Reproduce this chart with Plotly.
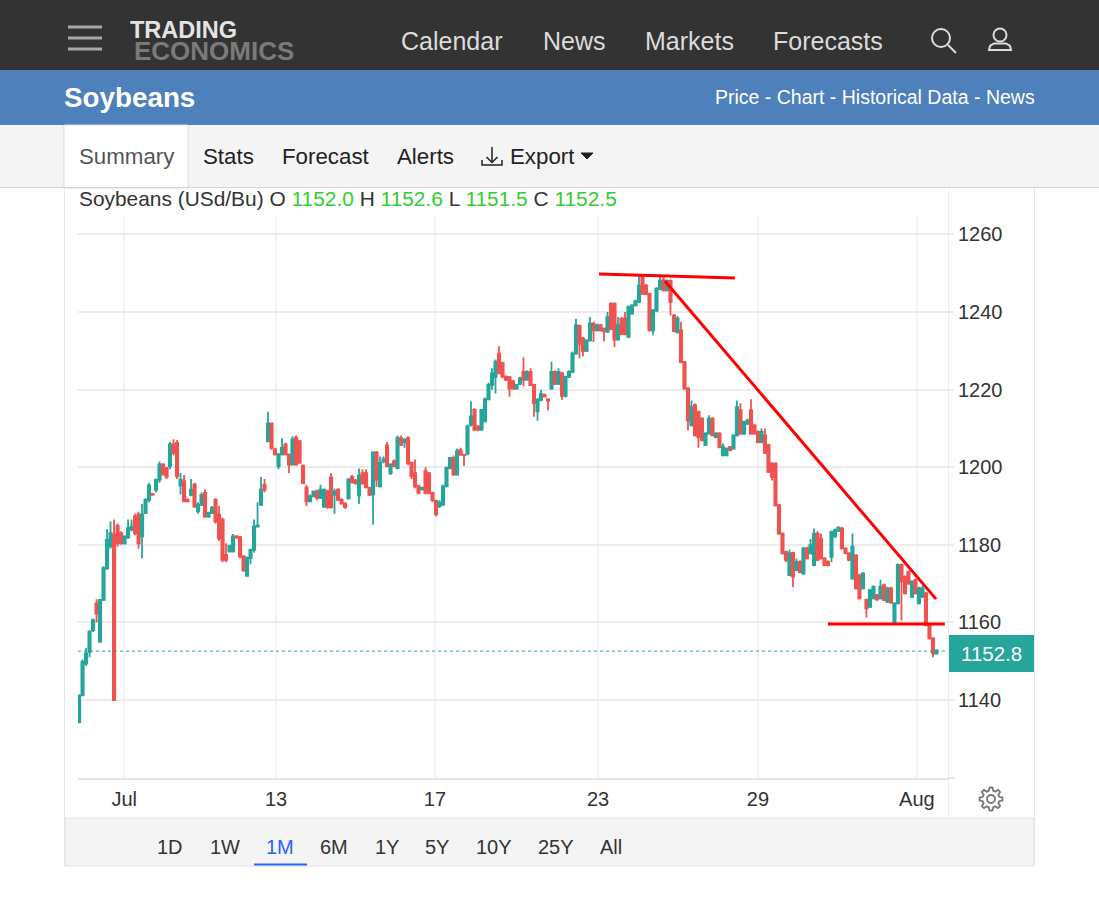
import math
import plotly.graph_objects as go

# prices, one candle per entry, left to right
opens = [
    1134.3,1141.2,1149.4,1152.4,1158,1164.9,1155,1165.8,1174,1179.6,
    1182.6,1184.9,1183,1180.4,1182,1183.9,1187.3,1187.8,1182.2,1188.2,
    1191.6,1193.1,1194.2,1196.8,1200.7,1199.8,1200.3,1205.9,1206.3,1195.3,
    1196.4,1191.6,1192.9,1195.5,1188.6,1190.3,1193.4,1187.3,1188.2,1191.6,
    1187.8,1186.5,1177.4,1178.3,1178.3,1182.2,1182,1177,1172,1176.6,
    1178.7,1184.7,1190.3,1195.5,1206.7,1211.3,1204.6,1200.3,1203.3,1205.9,
    1203.3,1200.7,1207.6,1206.7,1200.4,1194.7,1191.2,1192.5,1193.8,1192.1,
    1189.9,1193.8,1197.4,1192.9,1194.2,1191.6,1190.6,1191.9,1197.5,1196.6,
    1192.7,1198.5,1198.5,1194.7,1193,1203.8,1195.1,1201.5,1205.6,1198.5,
    1201.5,1199.8,1207.5,1206.4,1207.5,1201.1,1198.5,1195.1,1194.3,1199,
    1198.5,1193.4,1191.3,1190,1190.4,1195.1,1199.8,1202.4,1198.1,1204.4,
    1203.2,1203.5,1210.9,1214.8,1210.5,1209.7,1211.8,1217.5,1221.2,1223.3,
    1229.3,1226.8,1223.3,1223.2,1222.1,1220.3,1221.5,1224.6,1222.6,1224.6,
    1221.2,1214.4,1217.4,1218.6,1217.5,1220.3,1224.6,1221.5,1224.2,1218.4,
    1223.3,1224.6,1229.3,1236.4,1233.2,1230,1232.7,1237,1235.3,1236.6,
    1235.7,1234.9,1242.1,1242.1,1232.9,1238.3,1238.3,1233.6,1239.6,1241.7,
    1242.6,1249,1246.8,1244.7,1235.3,1240.4,1246,1248.2,1245.6,1248,
    1239.1,1234.8,1235.3,1227.1,1220.3,1210.8,1216,1214.2,1212.5,1205.8,
    1208.7,1212.5,1207.8,1208.7,1203.1,1203.1,1205.2,1204.8,1208.2,1214.7,
    1208.7,1211.2,1214.7,1210.8,1209.1,1206.5,1208.2,1205.7,1200.9,1200.9,
    1190.2,1182.9,1178.2,1172.2,1177.9,1173.5,1175.6,1172.6,1179.1,1177.8,
    1174.8,1182.9,1181.6,1176.5,1175.6,1176.9,1182.1,1183.6,1184.2,1179.1,
    1177.8,1171.3,1177.3,1172.2,1168.8,1165.8,1164,1166.2,1167,1166.2,
    1169.6,1165.3,1168.8,1160,1164.9,1174.8,1171.8,1173,1166.6,1170.9,
    1164.9,1166.6,1167.5,1159.3,1155.9,1152,
]
closes = [
    1141.2,1149.8,1152,1157.6,1160.6,1162.3,1165.8,1174,1181.3,1183,
    1140,1180.4,1180.4,1182.2,1184.3,1184.7,1183,1180.4,1187.8,1191.6,
    1195.3,1192.9,1196.8,1200.7,1198.1,1197.5,1205.9,1203.7,1197.7,1196.8,
    1191.2,1191.2,1194.2,1189.9,1190.3,1192.9,1187.3,1188.2,1189.5,1186,
    1181.7,1176.1,1176.1,1179.8,1182.2,1182,1177,1173.5,1176.6,1178.7,
    1184.7,1185,1194.2,1194.2,1211.3,1205,1203.3,1203.3,1205,1203.3,
    1200.7,1207.2,1200.7,1201.1,1195.9,1191.2,1192.5,1193.8,1192.1,1194.2,
    1194.2,1189.7,1189.7,1193.8,1191.6,1190.6,1189.7,1196.8,1196.1,1195.9,
    1197.8,1195.9,1194.9,1192.9,1203.8,1196.8,1201.1,1202.1,1200.3,1200.7,
    1200.3,1207.5,1205.8,1207.1,1201.1,1197.7,1195.1,1193.4,1194.7,1193.4,
    1193.4,1191.5,1187.9,1190.9,1195.1,1199.8,1202.4,1198.1,1204.1,1203.2,
    1203.1,1210.5,1213.1,1209.7,1209.7,1214.8,1217.5,1221.2,1224.2,1227.2,
    1224.2,1223.3,1222.5,1220.3,1220.3,1221.2,1222.9,1222.5,1224.6,1221.2,
    1216.5,1217.4,1218.9,1218.2,1217.2,1224.6,1221.5,1224.6,1218.4,1223.3,
    1224.6,1229.3,1236.6,1231.9,1230,1232.7,1237,1235.3,1236.6,1235.3,
    1235.1,1238.7,1235.7,1232.9,1236.6,1234.3,1234.3,1241.3,1241.7,1242.8,
    1246.8,1244.7,1244.7,1235.3,1240.4,1246,1248.1,1245.6,1248,1242.6,
    1235.1,1238.3,1227.1,1220.3,1212.1,1215.5,1208.2,1207.8,1207,1208.7,
    1212.5,1208.2,1208.7,1205.2,1205.2,1204.8,1204.4,1208.2,1215.5,1208.7,
    1211.7,1212.1,1208.7,1208.7,1206.5,1209.1,1203.7,1198.8,1197.5,1190.2,
    1182.9,1177.8,1176.1,1177.8,1171.8,1175.6,1173,1179.1,1176.5,1179.9,
    1182.9,1176.1,1176.5,1174.8,1174.8,1183.3,1183.8,1184.4,1179.1,1177.9,
    1176.1,1179.5,1168.8,1166.2,1172.6,1163.6,1168.3,1169.2,1165.9,1169.2,
    1165.8,1168.8,1165.1,1164.9,1174.8,1170.5,1167.5,1170,1170.5,1167.5,
    1168.8,1168.8,1159.3,1155.9,1152,1152.8,
]
highs = [
    1141.5,1150.5,1153.5,1158,1161,1166,1166,1174.5,1184,1186,
    1186.5,1185.5,1183.5,1182.5,1186.5,1186.5,1188,1188.5,1190.5,1192,
    1196,1193.3,1197,1201.5,1201,1200,1206.5,1207.2,1207,1198.5,
    1198,1192,1197,1196,1191,1193.5,1194.3,1188.5,1190,1192,
    1190,1187,1180.4,1180,1182.8,1182.5,1182.3,1177.3,1177,1179,
    1186.5,1191,1197.5,1197,1214.3,1211.5,1205,1203.7,1207.5,1206.3,
    1203.5,1208,1208.2,1207,1200.7,1195.5,1193,1194,1194.2,1195.5,
    1194.5,1194.2,1198.5,1194.5,1194.6,1192,1191,1197.2,1198,1197,
    1199.7,1199.5,1199.5,1195,1204,1204.2,1202.8,1202.8,1206.5,1201,
    1202,1208.2,1208.2,1207.5,1208,1201.5,1202,1195.5,1195,1200,
    1198.8,1193.7,1191.6,1191.5,1195.5,1200.2,1202.7,1203,1204.8,1205,
    1203.5,1211,1217,1215.2,1210.8,1215,1218,1221.8,1225.5,1227.8,
    1231.2,1227.2,1223.7,1223.5,1222.5,1221.5,1223.3,1228.3,1225,1225.5,
    1221.5,1217.8,1220,1219,1217.8,1227.2,1225,1225.5,1224.6,1223.6,
    1225,1229.8,1238.3,1236.8,1233.6,1233,1238.7,1237.5,1237,1237,
    1236,1240,1242.5,1242.5,1238.7,1238.7,1240,1241.7,1242,1243.2,
    1249.3,1249.5,1247.2,1245,1240.8,1246.4,1249.7,1249,1248.4,1248.4,
    1239.5,1239,1237.5,1227.4,1220.6,1217.2,1216.4,1214.6,1212.9,1209,
    1213.4,1212.9,1209,1209,1206.1,1205.1,1205.5,1208.5,1217.2,1216.5,
    1212,1212.5,1217.5,1211.2,1209.5,1210,1210,1206,1201.3,1201.3,
    1190.5,1183.2,1178.5,1178.8,1178.2,1176.5,1176,1179.5,1179.5,1181.5,
    1184.2,1183.5,1182.9,1176.8,1176,1183.7,1184.2,1184.8,1184.6,1179.4,
    1178.1,1182.9,1177.6,1172.5,1173,1166.1,1168.6,1169.5,1167.3,1171,
    1170,1169.2,1169.2,1165.2,1175.2,1175.2,1172.1,1173.4,1170.9,1171.3,
    1169.2,1169.5,1167.9,1159.6,1156.2,1153.1,
]
lows = [
    1134,1141,1148.8,1151,1157.5,1160,1155,1165.5,1173.5,1179,
    1140,1179.5,1180,1180,1181.5,1183.5,1182.5,1179,1176.5,1188,
    1191,1192.7,1193.5,1196,1198,1197,1199.5,1203,1197,1193,
    1191,1191,1192.5,1189.5,1188,1190,1187,1187,1188,1185.5,
    1181,1175.5,1175.5,1178,1178,1181.5,1176.5,1173,1172,1175,
    1178,1184.5,1190,1193.5,1206.5,1204.5,1203,1199.5,1203,1203,
    1198.5,1200.5,1200.5,1201,1195.7,1190,1191,1192.3,1191.5,1191.8,
    1189.5,1189.3,1189.3,1188,1191.3,1190.3,1189.3,1191.7,1195.8,1195.5,
    1190.5,1195.5,1194.5,1192.5,1185.2,1195,1194.8,1201,1200,1198,
    1200,1199.5,1205.5,1205,1200.5,1197,1194.5,1193,1194,1193,
    1193,1191,1187.3,1189.5,1190,1194.8,1199.5,1197.8,1197.8,1203,
    1200.3,1203,1210.5,1209.3,1209.3,1209.4,1211.5,1217.2,1220,1219,
    1224,1223,1222.2,1218.2,1220,1220,1221.2,1220.9,1222.3,1221,
    1213,1212,1217,1218,1214.7,1220,1221.2,1221.2,1217.4,1218,
    1223,1224.3,1229,1228.1,1228.6,1229.7,1232.4,1232.3,1235,1235,
    1232.4,1234.6,1235.3,1231,1232.6,1234,1234,1233.3,1239.3,1241.4,
    1242.3,1244.4,1244.4,1235,1234,1240,1245.7,1245.3,1245.3,1239.1,
    1234.8,1234.5,1226.8,1220,1209.5,1210.5,1207.9,1205,1206.7,1205.5,
    1208.4,1207.9,1207.5,1204.9,1202.8,1202.8,1204.1,1204.5,1207.9,1208.4,
    1208.4,1210.9,1208.4,1208.4,1206.2,1206.2,1203.4,1198.5,1196.6,1189.9,
    1182.6,1177.5,1175.5,1171.9,1169.1,1173.2,1172.7,1172.3,1176.2,1177.5,
    1174.5,1175.8,1176.2,1174.5,1174.5,1175.5,1181.8,1183.3,1178.8,1177.6,
    1175.8,1171,1168.5,1165.9,1168.5,1161.3,1163.7,1165.9,1165.6,1165.9,
    1165.5,1165,1164.8,1159.8,1164.6,1160.5,1167.2,1169.7,1166.3,1167.2,
    1164.6,1166.3,1159,1155.6,1151,1151.7,
]
candle_index = list(range(len(opens)))

x_tick_index = [12.9, 56.3, 101.7, 148.3, 194, 239.4]
x_tick_labels = ['Jul', '13', '17', '23', '29', 'Aug']
y_ticks = [1140, 1160, 1180, 1200, 1220, 1240, 1260]

# the three red lines drawn by hand on the chart
top_line_x, top_line_y = [148.6, 187.4], [1249.8, 1248.8]
fall_line_x, fall_line_y = [167.4, 244.9], [1248, 1166]
floor_line_x, floor_line_y = [214, 247.4], [1159.6, 1159.6]

last_price = 1152.6
ranges = ['1D', '1W', '1M', '6M', '1Y', '5Y', '10Y', '25Y', 'All']
range_centers = [170, 225, 280, 334, 387, 437, 494, 556, 611]
nav_items = ['Calendar', 'News', 'Markets', 'Forecasts']
nav_left = [400, 542, 644, 772]
tab_items = ['Summary', 'Stats', 'Forecast', 'Alerts', 'Export']
tab_left = [78, 202, 281, 396, 509]

W, H = 1099, 901
UP, DOWN = '#26a69a', '#ef5350'
FONT = 'Liberation Sans'

def px(x):
    return x / W

def py(y):
    return 1 - y / H

def rect(fig, x0, y0, x1, y1, fill, line=None, layer='below'):
    fig.add_shape(type='rect', xref='paper', yref='paper', x0=px(x0), x1=px(x1), y0=py(y1), y1=py(y0),
                  fillcolor=fill, line=dict(color=line or fill, width=1 if line else 0), layer=layer)

def seg(fig, x0, y0, x1, y1, color, width=1, layer='above'):
    fig.add_shape(type='line', xref='paper', yref='paper', x0=px(x0), x1=px(x1), y0=py(y0), y1=py(y1),
                  line=dict(color=color, width=width), layer=layer)

def ring(fig, cx, cy, r, color, width=2):
    fig.add_shape(type='circle', xref='paper', yref='paper', x0=px(cx - r), x1=px(cx + r), y0=py(cy + r), y1=py(cy - r),
                  line=dict(color=color, width=width), layer='above')

def outline(fig, points, color, width=2, fill='rgba(0,0,0,0)', close=True):
    d = 'M ' + ' L '.join('{:.5f} {:.5f}'.format(px(a), py(b)) for a, b in points) + (' Z' if close else '')
    fig.add_shape(type='path', xref='paper', yref='paper', path=d, line=dict(color=color, width=width), fillcolor=fill, layer='above')

def label(fig, x, y, text, size, color, anchor='left', bold=False, height=None):
    if bold:
        text = '<b>' + text + '</b>'
    fig.add_annotation(xref='paper', yref='paper', x=px(x), y=py(y), text=text, showarrow=False, xanchor=anchor, yanchor='middle',
                       borderpad=0, height=height, font=dict(family=FONT, size=size, color=color))

fig = go.Figure()
fig.add_trace(go.Candlestick(x=candle_index, open=opens, high=highs, low=lows, close=closes, whiskerwidth=0,
                             increasing=dict(line=dict(color=UP, width=1.8), fillcolor=UP),
                             decreasing=dict(line=dict(color=DOWN, width=1.8), fillcolor=DOWN)))
for lx, ly in [(top_line_x, top_line_y), (fall_line_x, fall_line_y), (floor_line_x, floor_line_y)]:
    fig.add_trace(go.Scatter(x=lx, y=ly, mode='lines', line=dict(color='#ff0000', width=3)))
fig.add_hline(y=last_price, line=dict(color=UP, width=1, dash='dot'), layer='above')

# page furniture around the chart
rect(fig, 0, 0, W, 70, '#333333')
rect(fig, 0, 70, W, 125, '#4e80bc')
rect(fig, 0, 125, W, 187, '#f4f4f4')
rect(fig, 64, 125, 188, 188, '#ffffff', '#dddddd')
seg(fig, 0, 187.5, W, 187.5, '#d4d4d4', 1, 'below')
seg(fig, 64.5, 188, 64.5, 866, '#e6e6e6', 1, 'below')
seg(fig, 1034.5, 188, 1034.5, 866, '#e6e6e6', 1, 'below')
rect(fig, 65, 818, 1034, 866, '#f4f4f4', '#e2e2e2')
seg(fig, 948.5, 188, 948.5, 818, '#ececec', 1, 'below')
seg(fig, 948, 778, 955, 778, '#e4e4e4', 2, 'below')

# hamburger, logo, nav
for hy in [27, 38, 49]:
    seg(fig, 68, hy, 102, hy, '#a8a8a8', 3)
label(fig, 129, 30, 'TRADING', 23.5, '#e4e4e4', bold=True, height=20)
label(fig, 133, 50.5, 'ECONOMICS', 26, '#7a7a7a', bold=True, height=21)
for name, left in zip(nav_items, nav_left):
    label(fig, left, 41, name, 25, '#dcdcdc')

# search and user icons
ring(fig, 941, 38, 9, '#dcdcdc')
seg(fig, 948, 45, 956, 53, '#dcdcdc', 2)
ring(fig, 1000, 35, 6.5, '#dcdcdc')
outline(fig, [(989, 50), (990, 46), (994, 43.5), (1006, 43.5), (1010, 46), (1011, 50)], '#dcdcdc')

label(fig, 63, 97, 'Soybeans', 27.8, '#ffffff', bold=True)
label(fig, 1036, 97, 'Price - Chart - Historical Data - News', 19.5, '#ffffff', 'right')

for name, left in zip(tab_items, tab_left):
    label(fig, left, 156.5, name, 22.3, '#555555' if name == 'Summary' else '#222222')
# export arrow and caret
seg(fig, 492, 147, 492, 162, '#222222', 1.5)
outline(fig, [(486.5, 157), (492, 162.5), (497.5, 157)], '#222222', 1.5, close=False)
outline(fig, [(482, 160), (482, 165), (502, 165), (502, 160)], '#222222', 1.5, close=False)
outline(fig, [(581, 153), (593, 153), (587, 159)], '#222222', 1, fill='#222222')

green = '<span style="color:#32cd32">{}</span>'
legend = 'Soybeans (USd/Bu) O ' + green.format('1152.0') + ' H ' + green.format('1152.6') + ' L ' + green.format('1151.5') + ' C ' + green.format('1152.5')
label(fig, 78, 198.5, legend, 20.9, '#333333')

# last price tag
rect(fig, 949, 635, 1034, 672, UP, layer='above')
label(fig, 991.5, 653.5, '1152.8', 20.5, '#ffffff', 'center')

# gear
teeth = []
for k in range(48):
    a = 2 * math.pi * k / 48
    r = 11.5 if (k + 1) % 6 < 3 else 8.5
    teeth.append((991 + r * math.cos(a), 799 + r * math.sin(a)))
outline(fig, teeth, '#777777', 1.8)
ring(fig, 991, 799, 4, '#777777', 1.8)

for name, center in zip(ranges, range_centers):
    label(fig, center, 847, name, 20, '#2962ff' if name == '1M' else '#333333', 'center')
seg(fig, 254, 864.5, 307, 864.5, '#2962ff', 2)

fig.update_layout(width=W, height=H, autosize=False, margin=dict(l=0, r=0, t=0, b=0), showlegend=False, boxgap=0.05,
                  paper_bgcolor='#ffffff', plot_bgcolor='#ffffff', font=dict(family=FONT, color='#333333'),
                  xaxis=dict(domain=[px(78), px(948)], range=[-0.3, 248.3], rangeslider=dict(visible=False),
                             tickmode='array', tickvals=x_tick_index, ticktext=x_tick_labels,
                             tickfont=dict(family=FONT, size=20, color='#333333'), ticks='', ticklabelstandoff=2,
                             showgrid=True, gridcolor='#f0f3fa', gridwidth=2, zeroline=False,
                             showline=True, linecolor='#e4e4e4', linewidth=2),
                  yaxis=dict(domain=[py(778), py(217)], range=[1119.9, 1264.5], side='right',
                             tickmode='array', tickvals=y_ticks,
                             tickfont=dict(family=FONT, size=20, color='#333333'), ticks='outside', ticklen=5, tickcolor='#ececec', tickwidth=2,
                             showgrid=True, gridcolor='#ececec', gridwidth=2, zeroline=False, showline=False))

# no browser margin round the figure, the page is exactly the picture
fig.write_html("out.html", post_script="document.body.style.margin='0';", config=dict(displayModeBar=False))
